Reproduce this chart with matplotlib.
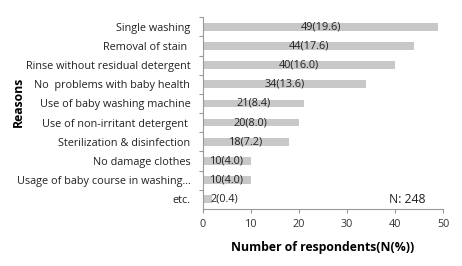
import matplotlib.pyplot as plt

reasons = ["Single washing", "Removal of stain ", "Rinse without residual detergent",
           "No  problems with baby health", "Use of baby washing machine",
           "Use of non-irritant detergent ", "Sterilization & disinfection",
           "No damage clothes", "Usage of baby course in washing...", "etc."]
counts = [49, 44, 40, 34, 21, 20, 18, 10, 10, 2]
percents = [19.6, 17.6, 16.0, 13.6, 8.4, 8.0, 7.2, 4.0, 4.0, 0.4]
total = 248

plt.rcParams['font.family'] = ['Open Sans', 'DejaVu Sans']

fig = plt.figure(figsize=(4.62, 2.66), dpi=100)
ax = fig.add_axes([0.439, 0.215, 0.52, 0.72])

ypos = list(range(len(reasons)))[::-1]
ax.barh(ypos, counts, height=0.4, color='#c8c8c8')

for y, c, p in zip(ypos, counts, percents):
    lbl = "%d(%.1f)" % (c, p)
    if c < 5:
        ax.text(1.6, y, lbl, ha='left', va='center', fontsize=7.8, color='#222222')
    else:
        ax.text(c / 2, y, lbl, ha='center', va='center', fontsize=7.8, color='#222222')

ax.text(46.3, 0, "N: %d" % total, ha='right', va='center', fontsize=8.8, color='#222222')

ax.set_xlim(0, 50)
ax.set_ylim(-0.5, len(reasons) - 0.5)
ax.set_xticks([0, 10, 20, 30, 40, 50])
ax.set_yticks([y + 0.5 for y in range(len(reasons))], minor=False)
ax.set_yticklabels([])
ax.set_yticks(ypos, minor=True)
ax.set_yticklabels(reasons, minor=True)
ax.tick_params(axis='y', which='minor', length=0, labelsize=7.8, pad=9, labelcolor='#222222')
ax.tick_params(axis='y', which='major', length=3, color='#999999', direction='out')
ax.tick_params(axis='x', length=3, color='#999999', labelsize=7.8, labelcolor='#333333', pad=4)

for s in ['top', 'right']:
    ax.spines[s].set_visible(False)
for s in ['left', 'bottom']:
    ax.spines[s].set_color('#999999')
    ax.spines[s].set_linewidth(0.8)

ax.set_xlabel("Number of respondents(N(%))", fontsize=8.8, fontweight='bold', labelpad=8)
fig.text(0.04, 0.617, "Reasons", rotation=90, ha='center', va='center', fontsize=8.8, fontweight='bold')

fig.savefig("out.png", dpi=100)
